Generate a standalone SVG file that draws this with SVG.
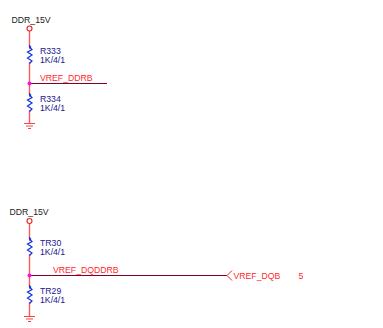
<svg xmlns="http://www.w3.org/2000/svg" width="383" height="328" viewBox="0 0 383 328">
<style>
text{font-family:"Liberation Sans",Arial,sans-serif;font-size:8.7px}
.pw{fill:#222}
.rf{fill:#20208c}
.net{fill:#ff2828}
.w{fill:none;stroke:#ff5a5a;stroke-width:1.4}
.n{fill:none;stroke:#800028;stroke-width:1}
.r{fill:none;stroke:#1030e0;stroke-width:1.2}
.c{fill:#fff;stroke:#e82020;stroke-width:1.1}
.g{fill:none;stroke:#ff4040;stroke-width:1.1}
.j{fill:#ff10e0}
.t{fill:#1030e0}
</style>
<rect width="383" height="328" fill="#fff"/>
<g id="connectors">
<path class="w" d="M29.500 31V47M29.500 62V95M29.500 110V123"/>
<path class="n" d="M30 83.500H107"/>
<path class="w" d="M29.500 224V239M29.500 254V287M29.500 302V316"/>
<path class="n" d="M30 275.500H227"/>
</g>
<g id="pwr1"><text class="pw" x="11.500" y="23">DDR_15V</text><circle class="c" cx="29.500" cy="28.500" r="2.500"/></g>
<g id="R333"><path class="r" d="M29.500 47l2.500 2.500-4.500 2.500 4.500 3-4.500 3 4.500 3-2.500 2.500"/><path class="t" d="M29 44.500l2.500 2.500-2.500 2z"/><text class="rf" x="40" y="54">R333</text><text class="rf" x="40" y="63">1K/4/1</text></g>
<g id="J1"><circle class="j" cx="29.500" cy="83.500" r="2"/><text class="net" x="40" y="81">VREF_DDRB</text></g>
<g id="R334"><path class="r" d="M29.500 95l2.500 2.500-4.500 2.500 4.500 3-4.500 3 4.500 3-2.500 2.500"/><path class="t" d="M29 92.500l2.500 2.500-2.500 2z"/><text class="rf" x="40" y="102">R334</text><text class="rf" x="40" y="111">1K/4/1</text></g>
<g id="gnd1"><path class="g" d="M24 123.500H35M26 126H33M28 128.500H31"/></g>
<g id="pwr2"><text class="pw" x="9.500" y="215">DDR_15V</text><circle class="c" cx="29.500" cy="221" r="2.500"/></g>
<g id="TR30"><path class="r" d="M29.500 239l2.500 2.500-4.500 2.500 4.500 3-4.500 3 4.500 3-2.500 2.500"/><path class="t" d="M29 236.500l2.500 2.500-2.500 2z"/><text class="rf" x="40" y="246">TR30</text><text class="rf" x="40" y="255">1K/4/1</text></g>
<g id="J2"><circle class="j" cx="29.500" cy="275.500" r="2"/><text class="net" x="53" y="273">VREF_DQDDRB</text></g>
<g id="TR29"><path class="r" d="M29.500 287l2.500 2.500-4.500 2.500 4.500 3-4.500 3 4.500 3-2.500 2.500"/><path class="t" d="M29 284.500l2.500 2.500-2.500 2z"/><text class="rf" x="40" y="294">TR29</text><text class="rf" x="40" y="303">1K/4/1</text></g>
<g id="gnd2"><path class="g" d="M24 316.500H35M26 319H33M28 321.500H31"/></g>
<g id="port"><path fill="none" stroke="#f02020" d="M232 270.500L227 275.500L232 280.500"/><text class="net" x="233.500" y="278.500">VREF_DQB</text><text class="net" x="298.500" y="278.500">5</text></g>
</svg>
